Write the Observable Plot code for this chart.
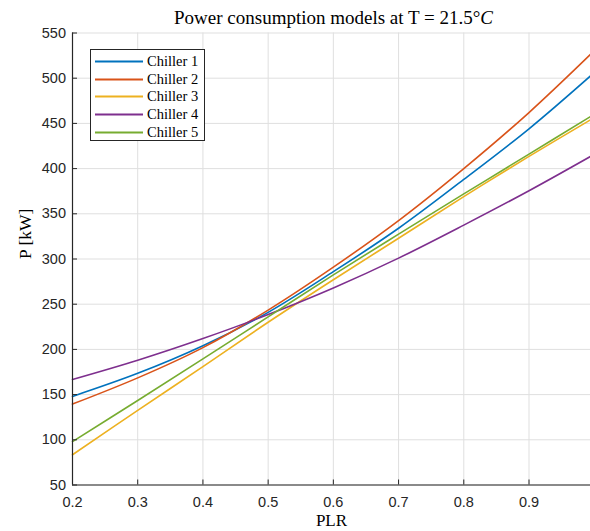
<!DOCTYPE html>
<html>
<head>
<meta charset="utf-8">
<script src="https://cdn.jsdelivr.net/npm/d3@7"></script>
<script src="https://cdn.jsdelivr.net/npm/@observablehq/plot@0.6"></script>
<style>
  html, body { margin: 0; padding: 0; background: #fff; overflow: hidden; }
  #wrap { position: relative; width: 590px; height: 531px; }
  #title { position: absolute; left: 133.5px; width: 400px; top: 7px; text-align: center;
           font-family: "Liberation Serif", "Times New Roman", serif; font-size: 19px; color: #000; white-space: nowrap; }
  #legend { position: absolute; left: 90px; top: 49px; width: 115px; height: 92px; box-sizing: border-box;
            border: 1px solid #262626; background: #fff; }
  .row { position: absolute; left: 0; height: 18px; width: 113px; }
  .row svg { position: absolute; left: 4px; top: 8px; }
  .row span { position: absolute; left: 56px; top: 0; line-height: 18px;
              font-family: "Liberation Serif", "Times New Roman", serif; font-size: 14.5px; color: #000; white-space: nowrap; }
</style>
</head>
<body>
<div id="wrap">
  <div id="chart"></div>
  <div id="title">Power consumption models at T = 21.5°<i>C</i></div>
  <div id="legend"></div>
</div>
<script>
// ---- data ----
const plr      = [0.2, 0.3, 0.4, 0.5, 0.6, 0.7, 0.8, 0.9, 0.9943];
const chiller1 = [148, 173.5, 204, 241, 286, 334, 388, 444, 502.5];
const chiller2 = [139.5, 168.5, 202, 243.5, 291, 342.5, 400, 462, 526.3];
const chiller3 = [83.5, 132.5, 181, 230, 277, 323, 369, 413.5, 454];
const chiller4 = [166.7, 188, 212, 238.5, 268, 301, 337.5, 375.5, 413.4];
const chiller5 = [98, 143.5, 189.5, 236, 282.5, 327.5, 372, 416, 457.6];
const seriesNames = ["Chiller 1", "Chiller 2", "Chiller 3", "Chiller 4", "Chiller 5"];
const seriesColors = ["#0072BD", "#D95319", "#EDB120", "#7E2F8E", "#77AC30"];
const xTicks = [0.2, 0.3, 0.4, 0.5, 0.6, 0.7, 0.8, 0.9];
const yTicks = [50, 100, 150, 200, 250, 300, 350, 400, 450, 500, 550];

const seriesValues = [chiller1, chiller2, chiller3, chiller4, chiller5];
const rows = [];
seriesNames.forEach((name, i) => {
  plr.forEach((x, j) => rows.push({series: name, plr: x, p: seriesValues[i][j]}));
});

const W = 590, H = 531, mL = 72, mR = 0, mT = 32.5, mB = 46.5;
const frameH = H - mT - mB, frameW = W - mL - mR;
const serif = "Liberation Serif, Times New Roman, serif";

const chart = Plot.plot({
  width: W, height: H,
  marginLeft: mL, marginRight: mR, marginTop: mT, marginBottom: mB,
  style: {fontFamily: "Liberation Sans, Arial, sans-serif", fontSize: "14.5px", color: "#262626", background: "#fff"},
  x: {domain: [0.2, 0.9943]},
  y: {domain: [50, 550]},
  color: {domain: seriesNames, range: seriesColors},
  marks: [
    Plot.gridX(xTicks, {stroke: "#dfdfdf", strokeOpacity: 1, strokeWidth: 1}),
    Plot.gridY(yTicks, {stroke: "#dfdfdf", strokeOpacity: 1, strokeWidth: 1}),
    Plot.line(rows, {x: "plr", y: "p", z: "series", stroke: "series", strokeWidth: 1.6, curve: "catmull-rom"}),
    Plot.tickX(xTicks, {x: d => d, insetTop: frameH - 5, stroke: "#262626"}),
    Plot.tickY(yTicks, {y: d => d, insetRight: frameW - 5, stroke: "#262626"}),
    Plot.ruleY([50], {stroke: "#262626", strokeWidth: 1.2}),
    Plot.ruleX([0.2], {stroke: "#262626", strokeWidth: 1.2}),
    Plot.axisX(xTicks, {tickSize: 0, tickPadding: 11.5, label: null, tickFormat: d => d.toFixed(1), fill: "#262626"}),
    Plot.axisY(yTicks, {tickSize: 0, tickPadding: 6.5, label: null, fill: "#262626"}),
    Plot.text(["PLR"], {frameAnchor: "bottom", dy: 35.5, lineAnchor: "middle", fontFamily: serif, fontSize: 17, fill: "#000", text: d => d}),
    Plot.text(["P [kW]"], {frameAnchor: "left", dx: -47.5, rotate: -90, fontFamily: serif, fontSize: 17.5, fill: "#000", text: d => d})
  ]
});
document.getElementById("chart").appendChild(chart);

// legend built from the series arrays
const legend = document.getElementById("legend");
seriesNames.forEach((name, i) => {
  const row = document.createElement("div");
  row.className = "row";
  row.style.top = (2 + i * 17.7) + "px";
  row.innerHTML = `<svg width="50" height="3"><line x1="0" x2="48" y1="1.5" y2="1.5" stroke="${seriesColors[i]}" stroke-width="1.8"/></svg><span>${name}</span>`;
  legend.appendChild(row);
});
</script>
</body>
</html>
